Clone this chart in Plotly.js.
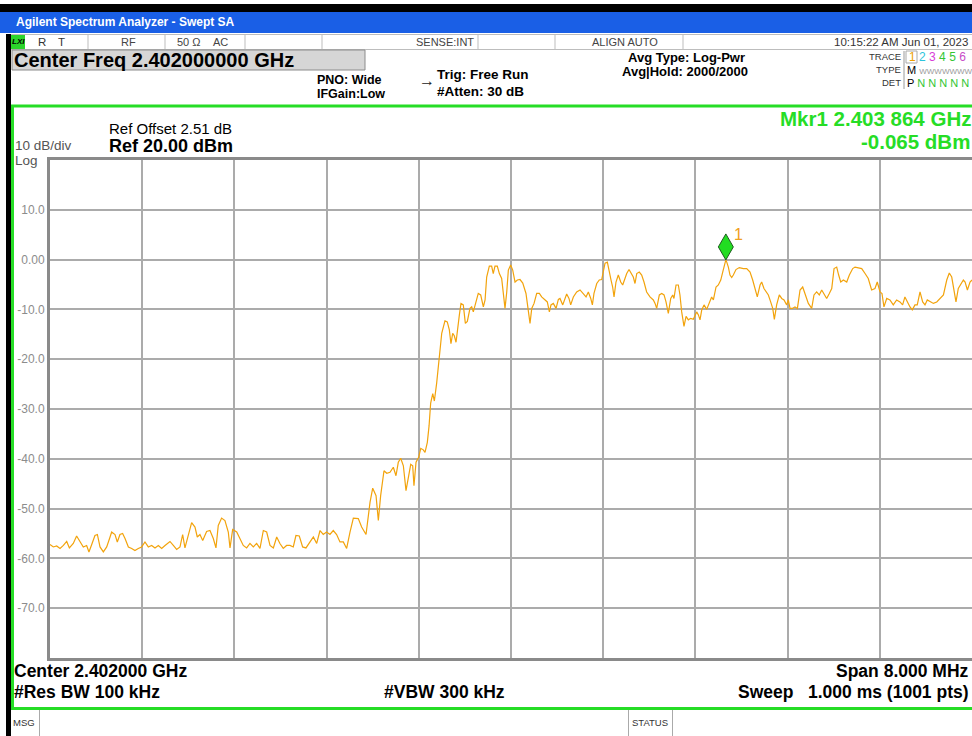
<!DOCTYPE html>
<html><head><meta charset="utf-8">
<script src="https://cdn.plot.ly/plotly-3.0.1.min.js"></script>
<style>html,body{margin:0;padding:0;background:#fff;}#chart{width:972px;height:736px;}</style>
</head><body><div id="chart"></div>
<script>
// ---- data (frequency in MHz, level in dBm) ----
const freqMHz = [
2398.000,2398.029,2398.058,2398.087,2398.116,2398.145,2398.168,2398.202,2398.231,2398.260,
2398.289,2398.318,2398.338,2398.362,2398.390,2398.411,2398.434,2398.463,2398.492,2398.521,
2398.535,2398.564,2398.584,2398.607,2398.630,2398.651,2398.680,2398.709,2398.737,2398.766,
2398.795,2398.824,2398.853,2398.882,2398.911,2398.940,2398.969,2398.998,2399.041,2399.070,
2399.099,2399.128,2399.151,2399.171,2399.200,2399.229,2399.258,2399.278,2399.301,2399.325,
2399.359,2399.388,2399.417,2399.440,2399.460,2399.489,2399.518,2399.547,2399.562,2399.585,
2399.620,2399.648,2399.677,2399.706,2399.735,2399.764,2399.793,2399.822,2399.851,2399.880,
2399.909,2399.938,2399.967,2399.995,2400.024,2400.053,2400.082,2400.111,2400.134,2400.163,
2400.192,2400.221,2400.256,2400.285,2400.314,2400.343,2400.371,2400.400,2400.429,2400.458,
2400.487,2400.516,2400.545,2400.574,2400.603,2400.632,2400.675,2400.704,2400.742,2400.777,
2400.800,2400.829,2400.849,2400.869,2400.898,2400.922,2400.950,2400.979,2401.002,2401.022,
2401.043,2401.066,2401.089,2401.109,2401.130,2401.147,2401.158,2401.176,2401.199,2401.217,
2401.239,2401.254,2401.274,2401.289,2401.303,2401.321,2401.335,2401.355,2401.378,2401.399,
2401.427,2401.447,2401.465,2401.479,2401.494,2401.508,2401.523,2401.537,2401.552,2401.566,
2401.586,2401.604,2401.621,2401.644,2401.659,2401.673,2401.697,2401.716,2401.737,2401.760,
2401.775,2401.789,2401.812,2401.832,2401.846,2401.861,2401.881,2401.899,2401.919,2401.933,
2401.948,2401.963,2401.977,2401.997,2402.015,2402.035,2402.055,2402.078,2402.102,2402.130,
2402.150,2402.165,2402.180,2402.200,2402.223,2402.246,2402.266,2402.295,2402.315,2402.333,
2402.347,2402.367,2402.391,2402.411,2402.425,2402.449,2402.469,2402.483,2402.503,2402.518,
2402.541,2402.570,2402.599,2402.627,2402.651,2402.671,2402.692,2402.706,2402.720,2402.744,
2402.766,2402.787,2402.801,2402.816,2402.836,2402.853,2402.868,2402.882,2402.894,2402.911,
2402.931,2402.952,2402.969,2402.989,2403.004,2403.024,2403.041,2403.061,2403.076,2403.091,
2403.113,2403.134,2403.154,2403.177,2403.206,2403.235,2403.250,2403.264,2403.287,2403.308,
2403.328,2403.345,2403.365,2403.386,2403.403,2403.414,2403.432,2403.452,2403.466,2403.481,
2403.501,2403.519,2403.539,2403.559,2403.582,2403.611,2403.626,2403.640,2403.655,2403.675,
2403.698,2403.721,2403.741,2403.756,2403.779,2403.799,2403.820,2403.837,2403.864,2403.872,
2403.886,2403.900,2403.915,2403.929,2403.952,2403.981,2404.016,2404.045,2404.074,2404.097,
2404.117,2404.137,2404.161,2404.175,2404.195,2404.213,2404.233,2404.253,2404.271,2404.285,
2404.305,2404.328,2404.349,2404.369,2404.392,2404.406,2404.421,2404.441,2404.464,2404.485,
2404.508,2404.531,2404.551,2404.580,2404.609,2404.629,2404.652,2404.675,2404.696,2404.716,
2404.739,2404.762,2404.783,2404.803,2404.826,2404.843,2404.861,2404.884,2404.913,2404.936,
2404.965,2404.985,2405.014,2405.043,2405.072,2405.100,2405.129,2405.158,2405.178,2405.202,
2405.219,2405.236,2405.260,2405.288,2405.317,2405.346,2405.375,2405.398,2405.418,2405.438,
2405.462,2405.482,2405.505,2405.525,2405.549,2405.572,2405.592,2405.612,2405.636,2405.665,
2405.694,2405.723,2405.752,2405.781,2405.803,2405.824,2405.844,2405.861,2405.881,2405.902,
2405.925,2405.940,2405.960,2405.983,2406.000];
const levelDbm = [
-57.2,-57.7,-57.5,-58.0,-57.4,-56.6,-57.9,-57.0,-55.5,-56.7,
-57.7,-57.4,-58.7,-57.2,-55.4,-55.2,-57.7,-58.7,-57.7,-55.7,
-54.7,-55.2,-56.7,-55.2,-55.0,-56.0,-57.7,-58.0,-58.4,-58.0,
-57.7,-56.7,-57.7,-57.4,-57.9,-57.4,-58.0,-57.4,-56.6,-57.4,
-58.2,-57.7,-55.2,-57.9,-55.4,-52.8,-53.7,-55.7,-55.2,-56.4,
-54.6,-54.4,-56.0,-57.9,-53.4,-51.9,-52.4,-54.7,-57.9,-54.2,
-54.7,-56.0,-57.4,-57.9,-57.0,-57.7,-57.0,-58.0,-54.4,-54.7,
-57.4,-57.9,-55.7,-57.0,-58.0,-57.4,-57.4,-57.7,-55.4,-55.5,
-57.7,-57.9,-56.7,-55.7,-57.0,-54.4,-55.2,-54.7,-55.2,-54.4,
-55.2,-56.7,-56.7,-58.0,-54.7,-51.9,-52.0,-53.7,-55.2,-48.7,
-45.9,-47.4,-52.4,-47.4,-42.4,-42.9,-42.7,-41.7,-43.4,-40.7,
-39.9,-41.4,-46.4,-43.4,-41.1,-41.4,-45.4,-40.7,-39.7,-37.9,
-38.2,-38.7,-36.7,-33.4,-28.8,-26.9,-28.4,-24.8,-19.4,-14.8,
-12.3,-12.5,-14.1,-16.9,-14.8,-15.3,-16.6,-13.4,-11.1,-8.8,
-9.1,-12.8,-12.4,-9.8,-9.5,-10.5,-8.1,-6.8,-7.1,-9.5,
-8.1,-3.5,-1.3,-1.3,-2.8,-1.3,-1.3,-2.8,-3.8,-6.5,
-9.8,-6.5,-2.1,-1.1,-2.1,-4.5,-4.1,-4.0,-4.7,-6.8,
-9.8,-12.8,-9.8,-8.8,-6.8,-6.8,-7.5,-8.1,-8.5,-10.5,
-9.1,-8.8,-9.8,-8.0,-7.8,-9.1,-7.5,-6.9,-7.8,-9.1,
-7.5,-6.5,-6.1,-6.8,-7.5,-6.5,-7.8,-9.1,-6.8,-4.8,
-4.1,-4.0,-2.1,-0.7,-0.5,-2.1,-4.1,-5.5,-7.5,-4.5,
-3.1,-4.5,-5.1,-3.8,-2.8,-2.0,-2.8,-3.5,-4.8,-2.8,
-2.5,-3.1,-4.5,-6.5,-7.5,-8.1,-8.8,-9.8,-7.1,-6.8,
-7.1,-8.5,-10.8,-7.8,-7.1,-7.8,-5.1,-5.1,-7.1,-10.5,
-13.4,-11.4,-12.1,-11.8,-12.0,-10.5,-11.1,-12.1,-10.1,-9.1,
-10.0,-8.5,-7.5,-8.1,-5.5,-5.1,-4.1,-2.5,-0.065,-0.5,
-1.5,-3.1,-3.6,-3.1,-2.0,-1.6,-1.8,-1.8,-2.5,-4.1,
-5.8,-7.5,-5.1,-4.5,-5.8,-6.5,-7.1,-8.5,-9.8,-12.0,
-9.1,-7.1,-7.8,-8.1,-9.1,-8.1,-9.8,-9.8,-9.5,-9.8,
-6.1,-5.5,-6.8,-8.8,-9.8,-7.1,-6.5,-7.1,-6.1,-6.8,
-7.8,-6.8,-5.8,-1.8,-1.5,-3.1,-4.5,-4.1,-4.5,-3.1,
-1.8,-1.5,-1.6,-1.8,-2.8,-3.8,-6.1,-5.8,-4.5,-6.5,
-6.8,-9.5,-7.8,-8.1,-9.1,-8.1,-8.5,-9.1,-7.5,-8.5,
-9.5,-10.1,-9.1,-9.1,-6.5,-8.5,-9.1,-8.1,-8.5,-8.8,
-8.5,-7.8,-7.1,-4.1,-2.7,-3.5,-6.5,-8.5,-5.8,-5.1,
-4.1,-4.5,-6.1,-4.5,-4.1];
const markerFreqMHz = [2403.864];
const markerLevelDbm = [-0.065];
const markerNames = ["1"];
const yTickVals = [10,0,-10,-20,-30,-40,-50,-60,-70];
const yTickText = ["10.0","0.00","-10.0","-20.0","-30.0","-40.0","-50.0","-60.0","-70.0"];
const xRangeMHz = [2398, 2406];
const xDivMHz = 0.8;
const yRangeDbm = [-80, 20];

// ---- page geometry (pixels) ----
const L = 50, R = 972, T = 160, B = 658;
const X = px => (px - L) / (R - L);
const Y = py => (B - py) / (B - T);
const FONT = "Liberation Sans, Arial, sans-serif";
const GREEN = "#26dd26";

const rect = (x0, y0, x1, y1, fill, line, lw) => ({type:'rect', xref:'paper', yref:'paper',
  x0:X(x0), x1:X(x1), y0:Y(y1), y1:Y(y0), fillcolor: fill || 'rgba(0,0,0,0)',
  line:{color: line || 'rgba(0,0,0,0)', width: lw || 0}, layer:'above'});
const seg = (x0, y0, x1, y1, color, w) => ({type:'line', xref:'paper', yref:'paper',
  x0:X(x0), x1:X(x1), y0:Y(y0), y1:Y(y1), line:{color, width:w}, layer:'above'});
const ann = (text, px, py, size, o) => Object.assign({xref:'paper', yref:'paper', x:X(px), y:Y(py),
  text, showarrow:false, xanchor:'left', yanchor:'middle', borderpad:0,
  font:{family:FONT, size, color:'#000'}}, o || {});

const shapes = [
  rect(0, 4, 972, 12, '#000'),
  rect(0, 12, 972, 33, '#1a5fe6'),
  seg(10, 34.5, 972, 34.5, '#bdbdbd', 1),
  seg(10, 49.5, 972, 49.5, '#bdbdbd', 1),
  ...[88,165,245,322,478,555,683].map(x => seg(x, 35, x, 49, '#bdbdbd', 1)),
  rect(10, 35, 25, 49, '#2bd42b'),
  rect(12, 50, 365, 70, '#d6d6d6', '#8c8c8c', 1),
  seg(904, 51, 904, 89, '#9a9a9a', 1),
  rect(906, 51, 917, 63, null, '#aaaaaa', 1),
  rect(6, 34, 11, 736, '#000'),
  rect(12.5, 106, 1000, 708.5, null, GREEN, 3),
  seg(39.5, 710, 39.5, 736, '#aaaaaa', 1),
  seg(628.5, 710, 628.5, 736, '#aaaaaa', 1),
  seg(672.5, 710, 672.5, 736, '#aaaaaa', 1),
  // marker diamond, anchored on the marker's data point
  ...markerFreqMHz.map((f, i) => ({type:'path', xref:'x', yref:'y', xsizemode:'pixel', ysizemode:'pixel',
    xanchor:f, yanchor:markerLevelDbm[i], path:'M0,0 L7.5,13 L0,26 L-7.5,13 Z',
    fillcolor:'#22dd22', line:{color:'#1d5a1d', width:1}, layer:'above'}))
];

const B_ = {weight:'bold'};
const F = (size, color, extra) => Object.assign({family:FONT, size, color: color || '#000'}, extra || {});
const annotations = [
  ann('Agilent Spectrum Analyzer - Swept SA', 15, 22.5, 12, {font:F(12,'#fff',B_)}),
  ann('LXI', 11, 42, 8, {font:F(8,'#000',{weight:'bold', style:'italic'})}),
  ann('R', 37, 42, 11.5, {font:F(11.5,'#333')}),
  ann('T', 57, 42, 11.5, {font:F(11.5,'#333')}),
  ann('RF', 128, 42, 11, {xanchor:'center', font:F(11,'#444')}),
  ann('50 Ω', 176, 42, 11, {font:F(11,'#444')}),
  ann('AC', 212, 42, 11, {font:F(11,'#444')}),
  ann('SENSE:INT', 475, 42, 11, {xanchor:'right', font:F(11,'#444')}),
  ann('ALIGN AUTO', 591, 42, 11, {font:F(11,'#444')}),
  ann('10:15:22 AM Jun 01, 2023', 969, 42, 11.5, {xanchor:'right', font:F(11.5,'#333')}),
  ann('Center Freq 2.402000000 GHz', 13, 60.5, 20, {font:F(20,'#000',B_)}),
  ann('PNO: Wide', 316, 80, 12.5, {font:F(12.5,'#000',B_)}),
  ann('IFGain:Low', 316, 94, 12.5, {font:F(12.5,'#000',B_)}),
  ann('→', 427, 80, 16, {xanchor:'center', font:F(16,'#222')}),
  ann('Trig: Free Run', 436, 74, 13.5, {font:F(13.5,'#000',B_)}),
  ann('#Atten: 30 dB', 436, 91, 13.5, {font:F(13.5,'#000',B_)}),
  ann('Avg Type: Log-Pwr', 686, 57, 13, {xanchor:'center', font:F(13,'#000',B_)}),
  ann('Avg|Hold: 2000/2000', 685, 71.5, 13, {xanchor:'center', font:F(13,'#000',B_)}),
  ann('TRACE', 902, 56.5, 9.5, {xanchor:'right', font:F(9.5,'#333')}),
  ann('TYPE', 902, 69.5, 9.5, {xanchor:'right', font:F(9.5,'#333')}),
  ann('DET', 902, 82.5, 9.5, {xanchor:'right', font:F(9.5,'#333')}),
  ann("<span style='color:#eea000'>1</span> <span style='color:#2cc4dc'>2</span> <span style='color:#d83cd8'>3</span> <span style='color:#33c633'>4</span> <span style='color:#33c633'>5</span> <span style='color:#c84cc8'>6</span>",
      908, 57, 12, {font:F(12,'#000')}),
  ann("M <span style='color:#9a9a9a;font-size:8px'>WWWWWWW</span>", 906, 70, 11, {font:F(11,'#000')}),
  ann("P <span style='color:#33c633'>N N N N N</span>", 906, 83, 11, {font:F(11,'#000')}),
  ann('Ref Offset 2.51 dB', 108, 129, 15, {font:F(15,'#000')}),
  ann('Ref 20.00 dBm', 108, 145.5, 18, {font:F(18,'#000',B_)}),
  ann('10 dB/div', 14, 145, 13.5, {font:F(13.5,'#555')}),
  ann('Log', 14, 160, 13.5, {font:F(13.5,'#555')}),
  ann('Mkr1 2.403 864 GHz', 972, 118, 20.5, {xanchor:'right', font:F(20.5,GREEN,B_)}),
  ann('-0.065 dBm', 971, 141.5, 20.5, {xanchor:'right', font:F(20.5,GREEN,B_)}),
  ann('Center 2.402000 GHz', 13, 671, 17.5, {font:F(17.5,'#000',B_)}),
  ann('#Res BW 100 kHz', 13, 692, 17.5, {font:F(17.5,'#000',B_)}),
  ann('#VBW 300 kHz', 383, 692, 17.5, {font:F(17.5,'#000',B_)}),
  ann('Span 8.000 MHz', 970, 671, 17.5, {xanchor:'right', font:F(17.5,'#000',B_)}),
  ann('Sweep\u00a0\u00a0 1.000 ms (1001 pts)', 970, 692, 17.5, {xanchor:'right', font:F(17.5,'#000',B_)}),
  ann('MSG', 12, 722, 9.5, {font:F(9.5,'#333')}),
  ann('STATUS', 631, 722, 9.5, {font:F(9.5,'#333')}),
  // marker number label, tied to the marker data point
  ...markerFreqMHz.map((f, i) => ({xref:'x', yref:'y', x:f, y:markerLevelDbm[i], text:markerNames[i],
    showarrow:false, xshift:13, yshift:25, font:F(16,'#f0a020')}))
];

const traces = [{
  type:'scatter', mode:'lines', x:freqMHz, y:levelDbm,
  line:{color:'#f2a30c', width:1.2}, hoverinfo:'skip', showlegend:false
}];

const layout = {
  width:972, height:736,
  margin:{l:L, r:972-R, t:T, b:736-B, pad:0},
  paper_bgcolor:'#ffffff', plot_bgcolor:'#ffffff',
  showlegend:false,
  font:{family:FONT},
  xaxis:{range:xRangeMHz, tick0:xRangeMHz[0], dtick:xDivMHz, showticklabels:false, ticks:'',
    showgrid:true, gridcolor:'#ababab', gridwidth:2, zeroline:false,
    showline:true, mirror:true, linecolor:'#8a8a8a', linewidth:3, fixedrange:true},
  yaxis:{range:yRangeDbm, tickvals:yTickVals, ticktext:yTickText, ticks:'', ticklen:0,
    tickfont:{family:FONT, size:12, color:'#8c8c8c'},
    showgrid:true, gridcolor:'#ababab', gridwidth:2, zeroline:false,
    showline:true, mirror:true, linecolor:'#8a8a8a', linewidth:3, fixedrange:true},
  shapes, annotations
};

Plotly.newPlot('chart', traces, layout, {displayModeBar:false, staticPlot:true});
</script>
</body></html>
